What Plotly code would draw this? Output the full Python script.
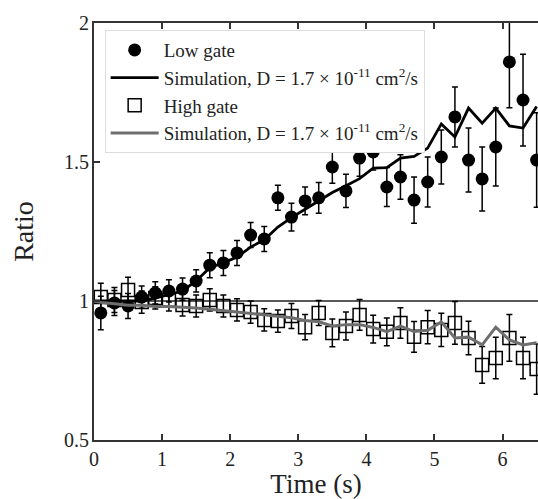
import plotly.graph_objects as go

# ---- data ----
times = [0.1, 0.3, 0.5, 0.7, 0.9, 1.1, 1.3, 1.5, 1.7, 1.9, 2.1, 2.3, 2.5, 2.7, 2.9, 3.1,
         3.3, 3.5, 3.7, 3.9, 4.1, 4.3, 4.5, 4.7, 4.9, 5.1, 5.3, 5.5, 5.7, 5.9, 6.1, 6.3, 6.5]

low_ratio = [0.957, 0.993, 0.982, 1.014, 1.029, 1.036, 1.043, 1.072, 1.129, 1.137, 1.173,
             1.237, 1.223, 1.371, 1.302, 1.360, 1.371, 1.482, 1.396, 1.514, 1.536, 1.410,
             1.446, 1.363, 1.428, 1.518, 1.662, 1.507, 1.439, 1.554, 1.860, 1.723, 1.507]
low_err = [0.06, 0.045, 0.045, 0.04, 0.04, 0.04, 0.04, 0.04, 0.045, 0.045, 0.045, 0.045,
           0.045, 0.045, 0.05, 0.05, 0.055, 0.058, 0.06, 0.065, 0.065, 0.07, 0.08, 0.083,
           0.09, 0.097, 0.108, 0.115, 0.115, 0.14, 0.165, 0.165, 0.17]

high_ratio = [1.014, 1.004, 1.040, 0.996, 1.011, 1.004, 0.986, 0.982, 1.004, 0.982, 0.968,
              0.960, 0.932, 0.928, 0.946, 0.906, 0.957, 0.885, 0.910, 0.950, 0.899, 0.889,
              0.921, 0.871, 0.906, 0.896, 0.921, 0.867, 0.770, 0.795, 0.867, 0.795, 0.755]
high_err = [0.05, 0.045, 0.045, 0.04, 0.04, 0.04, 0.04, 0.04, 0.04, 0.04, 0.04, 0.04,
            0.04, 0.04, 0.045, 0.045, 0.045, 0.05, 0.05, 0.055, 0.05, 0.05, 0.055, 0.055,
            0.06, 0.06, 0.077, 0.06, 0.066, 0.075, 0.084, 0.075, 0.09]

sim_times = [0.0, 0.1, 0.3, 0.5, 0.7, 0.9, 1.1, 1.3, 1.5, 1.7, 1.9, 2.1, 2.3, 2.5, 2.7, 2.9,
             3.1, 3.3, 3.5, 3.7, 3.9, 4.1, 4.3, 4.5, 4.7, 4.9, 5.1, 5.3, 5.5, 5.7, 5.9, 6.1,
             6.3, 6.5]
low_sim = [1.0, 1.0, 1.0, 1.0, 1.0, 1.01, 1.022, 1.036, 1.072, 1.12, 1.137, 1.158, 1.194,
           1.22, 1.266, 1.30, 1.33, 1.36, 1.39, 1.415, 1.44, 1.478, 1.48, 1.514, 1.52, 1.55,
           1.637, 1.59, 1.694, 1.64, 1.694, 1.63, 1.622, 1.70]
high_sim = [1.0, 0.995, 0.99, 0.985, 0.985, 0.98, 0.98, 0.978, 0.975, 0.97, 0.965, 0.96,
            0.955, 0.95, 0.945, 0.94, 0.93, 0.925, 0.91, 0.915, 0.915, 0.905, 0.89, 0.91,
            0.89, 0.895, 0.925, 0.867, 0.87, 0.842, 0.906, 0.86, 0.842, 0.85]

x_ticks = [0, 1, 2, 3, 4, 5, 6]
y_ticks = [0.5, 1, 1.5, 2]
y_ticktext = ["0.5", "1", "1.5", "2"]

sim_label = "Simulation, D = 1.7 \u00d7 10<sup>-11</sup> cm<sup>2</sup>/s"

FONT = "Liberation Serif, Times New Roman, serif"
INK = "#222222"

fig = go.Figure()
fig.add_trace(go.Scatter(
    x=times, y=low_ratio, mode="markers", name="Low gate",
    marker=dict(symbol="circle", size=13, color="black"),
    error_y=dict(type="data", array=low_err, color="black", thickness=1.5, width=3),
))
fig.add_trace(go.Scatter(
    x=sim_times, y=low_sim, mode="lines", name=sim_label,
    line=dict(color="black", width=2.8),
))
fig.add_trace(go.Scatter(
    x=times, y=high_ratio, mode="markers", name="High gate",
    marker=dict(symbol="square-open", size=13, color="black", line=dict(width=1.5)),
    error_y=dict(type="data", array=high_err, color="black", thickness=1.5, width=3),
))
fig.add_trace(go.Scatter(
    x=sim_times, y=high_sim, mode="lines", name=sim_label,
    line=dict(color="#6e6e6e", width=3),
))

fig.add_shape(type="line", xref="paper", yref="y", x0=0, x1=1, y0=1, y1=1,
              line=dict(color="#222222", width=1.5), layer="below")

axis_common = dict(
    showline=True, linecolor="#333333", linewidth=2, ticks="inside", ticklen=6,
    tickwidth=1.5, tickcolor="#333333", showgrid=False, zeroline=False,
    tickfont=dict(family=FONT, size=20, color=INK),
)

fig.update_layout(
    width=538, height=499,
    margin=dict(l=94, r=0, t=23, b=59),
    paper_bgcolor="white", plot_bgcolor="white",
    font=dict(family=FONT, color=INK),
    xaxis=dict(range=[0, 6.52], tickvals=x_ticks, mirror="ticks",
               title=dict(text="Time (s)", font=dict(family=FONT, size=27, color=INK), standoff=9),
               **axis_common),
    yaxis=dict(range=[0.5, 2], tickvals=y_ticks, ticktext=y_ticktext, mirror=False,
               ticklabelstandoff=-1,
               title=dict(text="Ratio", font=dict(family=FONT, size=28, color=INK), standoff=22),
               **axis_common),
    legend=dict(x=0.024, y=0.983, xanchor="left", yanchor="top",
                bgcolor="white", bordercolor="#dcdcdc", borderwidth=1,
                font=dict(family=FONT, size=19, color=INK), tracegroupgap=0,
                itemwidth=48),
    showlegend=True,
)

fig.write_html("out.html")
